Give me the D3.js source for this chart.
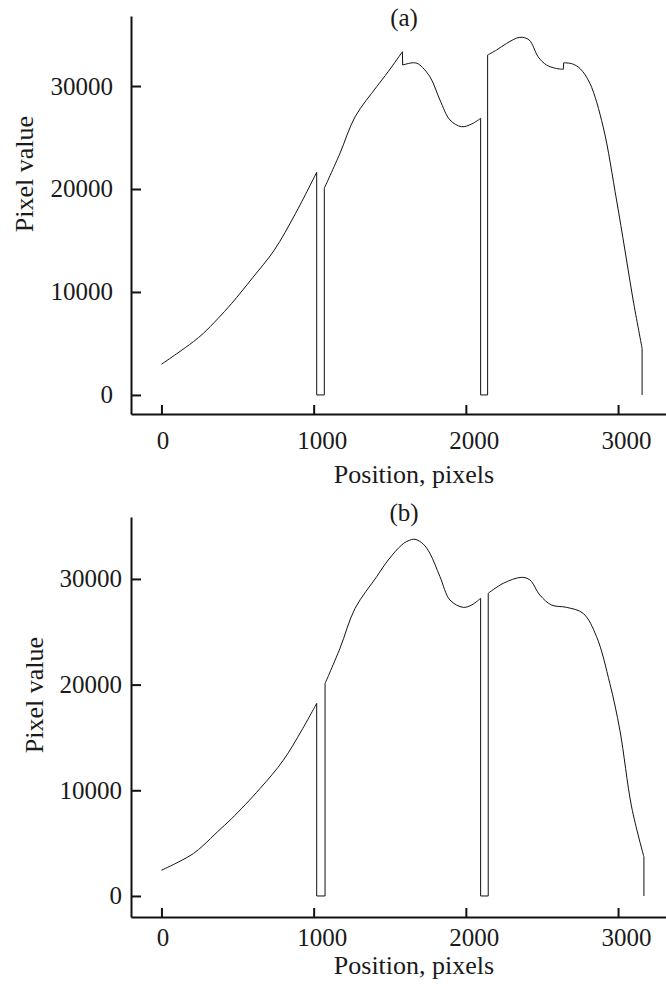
<!DOCTYPE html>
<html>
<head>
<meta charset="utf-8">
<script src="https://cdn.jsdelivr.net/npm/d3@7"></script>
<style>
  body { margin: 0; background: #fff; }
  svg text { font-family: "Liberation Serif", "Times New Roman", serif; fill: #1a1a1a; }
  .axis path, .axis line { stroke: #111; stroke-width: 2; }
  .trace { fill: none; stroke: #111; stroke-width: 1; }
</style>
</head>
<body>
<div id="chart"></div>
<script>
// tick values shared by both panels
var xTicks = [0, 1000, 2000, 3000];
var yTicks = [0, 10000, 20000, 30000];

// panel (a): smooth runs of the profile
var aRun1 = [[0, 2980], [100, 4000], [210, 5175], [276, 5990], [370, 7400], [462, 8900],
             [600, 11400], [742, 14080], [880, 17600], [1020, 21620]];
var aRun2 = [[1070, 20070], [1173, 23466], [1272, 27000], [1414, 29930], [1490, 31400],
             [1583, 33330]];
var aRun3 = [[1585, 32040], [1655, 32260], [1688, 32140], [1764, 30900], [1830, 28640],
             [1896, 26700], [1972, 26050], [2038, 26310], [2097, 26860]];
var aRun4 = [[2143, 33010], [2202, 33500], [2268, 34140], [2355, 34730], [2416, 34470], [2475, 32840],
             [2530, 32040], [2590, 31720], [2640, 31620]];
var aRun5 = [[2643, 32260], [2700, 32150], [2750, 31700], [2815, 30260], [2902, 26050], [2990, 18930],
             [3045, 14080], [3099, 9220], [3158, 4530]];
// how consecutive runs join: "gap" drops to zero, "step" jumps directly
var aJoins = ["gap", "step", "gap", "step"];

// panel (b)
var bRun1 = [[0, 2434], [110, 3200], [210, 4015], [276, 4800], [370, 6100], [462, 7330], [648, 10170],
             [801, 12850], [922, 15690], [1020, 18220]];
var bRun2 = [[1075, 20110], [1173, 23430], [1272, 27210], [1414, 30210], [1490, 31790],
             [1578, 33210], [1620, 33600], [1666, 33750], [1720, 33300], [1764, 32420], [1830, 30210],
             [1896, 28000], [1983, 27310], [2040, 27550], [2097, 28160]];
var bRun3 = [[2147, 28640], [2245, 29580], [2366, 30150], [2421, 29900], [2486, 28480], [2563, 27530],
             [2662, 27310], [2771, 26740], [2859, 24530], [2946, 20110], [3012, 15690], [3089, 8430],
             [3170, 3690]];
var bJoins = ["gap", "gap"];

var width = 666, height = 985;

var svg = d3.select("#chart").append("svg")
    .attr("width", width)
    .attr("height", height);

var panels = [
  { label: "(a)", runs: [aRun1, aRun2, aRun3, aRun4, aRun5], joins: aJoins,
    xRange: [131, 666], yRange: [414, 16], yDomain: [-1850, 36800],
    yPad: 18, xLabBase: 35, titleY: 26, xTitleY: 483, yTitleX: 33, yTitleY: 174 },
  { label: "(b)", runs: [bRun1, bRun2, bRun3], joins: bJoins,
    xRange: [131, 666], yRange: [917, 517], yDomain: [-1990, 35860],
    yPad: 9, xLabBase: 29, titleY: 521, xTitleY: 974, yTitleX: 43, yTitleY: 695 }
];

panels.forEach(function(p) {
  var x = d3.scaleLinear().domain([-200, 3315]).range(p.xRange);
  var y = d3.scaleLinear().domain(p.yDomain).range(p.yRange);
  var g = svg.append("g");

  var smooth = d3.line()
      .curve(d3.curveCatmullRom.alpha(0.5))
      .x(function(d) { return x(d[0]); })
      .y(function(d) { return y(d[1]); });
  var straight = d3.line()
      .x(function(d) { return x(d[0]); })
      .y(function(d) { return y(d[1]); });

  // smooth runs
  p.runs.forEach(function(run) {
    g.append("path").attr("class", "trace").attr("d", smooth(run));
  });

  // joins between runs, and the final drop to zero
  for (var i = 0; i < p.runs.length; i++) {
    var end = p.runs[i][p.runs[i].length - 1];
    var pts;
    if (i < p.runs.length - 1) {
      var nxt = p.runs[i + 1][0];
      pts = p.joins[i] === "gap" ? [end, [end[0], 0], [nxt[0], 0], nxt] : [end, nxt];
    } else {
      pts = [end, [end[0], 0]];
    }
    g.append("path").attr("class", "trace").attr("d", straight(pts));
  }

  // x axis
  var xg = g.append("g")
      .attr("class", "axis")
      .attr("transform", "translate(0," + p.yRange[0] + ")")
      .call(d3.axisBottom(x).tickValues(xTicks).tickSizeInner(-9).tickSizeOuter(0).tickFormat(d3.format("d")));
  xg.selectAll("text")
      .attr("y", p.xLabBase)
      .attr("dy", null)
      .attr("dx", function(d) { return d === 0 ? 1 : 8; })
      .style("font-size", "25px");

  // y axis
  var yg = g.append("g")
      .attr("class", "axis")
      .attr("transform", "translate(" + p.xRange[0] + ",0)")
      .call(d3.axisLeft(y).tickValues(yTicks).tickSizeInner(-10).tickSizeOuter(0).tickFormat(d3.format("d")));
  yg.selectAll("text")
      .attr("x", -p.yPad)
      .attr("dy", "0.32em")
      .style("font-size", "25px");
  xg.select(".domain").attr("stroke", "#111");
  yg.select(".domain").attr("stroke", "#111");

  // titles
  g.append("text")
      .attr("x", 404)
      .attr("y", p.titleY)
      .attr("text-anchor", "middle")
      .style("font-size", "25px")
      .text(p.label);
  g.append("text")
      .attr("x", 414)
      .attr("y", p.xTitleY)
      .attr("text-anchor", "middle")
      .style("font-size", "26px")
      .text("Position, pixels");
  g.append("text")
      .attr("transform", "translate(" + p.yTitleX + "," + p.yTitleY + ") rotate(-90)")
      .attr("text-anchor", "middle")
      .style("font-size", "26px")
      .text("Pixel value");
});
</script>
</body>
</html>
